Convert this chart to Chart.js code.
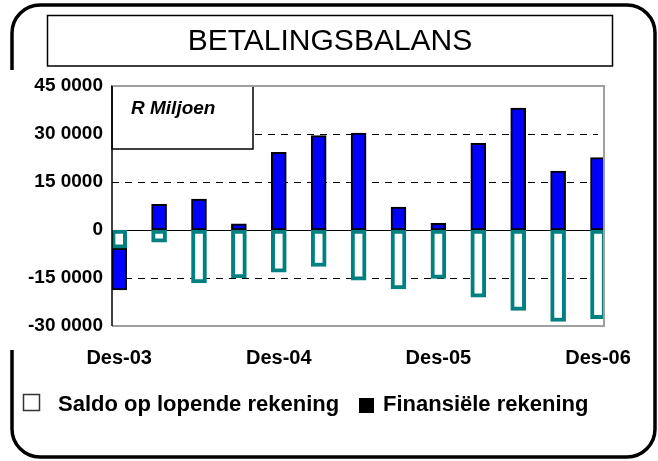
<!DOCTYPE html>
<html>
<head>
<meta charset="utf-8">
<script src="https://cdn.jsdelivr.net/npm/chart.js@4.4.0/dist/chart.umd.min.js"></script>
<style>
  html, body { margin: 0; padding: 0; background: #fff; }
</style>
</head>
<body>
<canvas id="bop" width="658" height="461"></canvas>
<script>
// quarters Des-03 .. Des-06, only every fourth one is labelled
const categories = ['Des-03', 'Mrt-04', 'Jun-04', 'Sep-04', 'Des-04', 'Mrt-05', 'Jun-05',
  'Sep-05', 'Des-05', 'Mrt-06', 'Jun-06', 'Sep-06', 'Des-06'];
const labelledQuarters = [0, 4, 8, 12];
const seriesNames = ['Saldo op lopende rekening', 'Finansiële rekening'];
const saldo = [-5700, -3800, -16500, -15000, -13200, -11400, -15700, -18400, -15100, -21000, -25100, -28600, -27700];
const finansiele = [-13000, 8000, 9700, 1900, 24300, 29500, 30300, 7200, 2100, 27100, 38100, 18400, 22600];
const yTicks = [-30000, -15000, 0, 15000, 30000, 45000];
const yTickLabels = ['-30 0000', '-15 0000', '0', '15 0000', '30 0000', '45 0000'];

const FONT = '"Liberation Sans", Arial, sans-serif';

const decor = {
  id: 'decor',
  beforeDraw(chart) {
    const { ctx } = chart;
    ctx.save();
    ctx.fillStyle = '#fff';
    ctx.fillRect(0, 0, chart.width, chart.height);

    // rounded outer frame, open on the left behind the y labels
    const l = 12, t = 5, r = 655, b = 457, rad = 28;
    ctx.beginPath();
    ctx.moveTo(l, 70);
    ctx.lineTo(l, t + rad);
    ctx.arcTo(l, t, l + rad, t, rad);
    ctx.lineTo(r - rad, t);
    ctx.arcTo(r, t, r, t + rad, rad);
    ctx.lineTo(r, b - rad);
    ctx.arcTo(r, b, r - rad, b, rad);
    ctx.lineTo(l + rad, b);
    ctx.arcTo(l, b, l, b - rad, rad);
    ctx.lineTo(l, 350);
    ctx.lineWidth = 3.5;
    ctx.strokeStyle = '#000';
    ctx.stroke();

    // title box
    ctx.lineWidth = 1.5;
    ctx.strokeRect(47.5, 15.5, 565, 50.5);
    ctx.fillStyle = '#000';
    ctx.font = '30px ' + FONT;
    ctx.textAlign = 'center';
    ctx.textBaseline = 'middle';
    ctx.fillText('BETALINGSBALANS', 330, 42);
    ctx.restore();
  },
  beforeDatasetsDraw(chart) {
    const { ctx, chartArea: a, scales: { x, y } } = chart;
    ctx.save();
    ctx.strokeStyle = '#000';
    ctx.lineWidth = 1;
    y.ticks.forEach(tk => {
      if (tk.value === y.min || tk.value === y.max) return;
      const py = Math.round(y.getPixelForValue(tk.value)) + 0.5;
      ctx.beginPath();
      if (tk.value === 0) {
        ctx.setLineDash([]);
        ctx.moveTo(a.left, py);
        ctx.lineTo(a.right, py);
      } else {
        ctx.setLineDash([7, 6]);
        ctx.moveTo(a.left, py);
        ctx.lineTo(a.right - 6, py);
      }
      ctx.stroke();
    });
    ctx.setLineDash([]);

    // small category ticks under the zero line
    const zy = y.getPixelForValue(0);
    labelledQuarters.slice(1).forEach(i => {
      const px = Math.round(x.getPixelForValue(i - 0.18)) + 0.5;
      ctx.beginPath();
      ctx.moveTo(px, zy);
      ctx.lineTo(px, zy + 7);
      ctx.stroke();
    });

    // unit box
    ctx.fillStyle = '#fff';
    ctx.fillRect(a.left, a.top, 141, 63);
    ctx.lineWidth = 1.5;
    ctx.strokeRect(a.left, a.top, 141, 63);
    ctx.fillStyle = '#000';
    ctx.font = 'italic bold 19px ' + FONT;
    ctx.textBaseline = 'middle';
    ctx.fillText('R Miljoen', a.left + 19, a.top + 23);
    ctx.restore();
  },
  afterDatasetsDraw(chart) {
    const { ctx, chartArea: a } = chart;
    ctx.save();
    ctx.strokeStyle = '#a0a0a0';
    ctx.lineWidth = 2;
    ctx.beginPath();
    ctx.moveTo(a.left, a.top);
    ctx.lineTo(a.right, a.top);
    ctx.lineTo(a.right, a.bottom);
    ctx.lineTo(a.left, a.bottom);
    ctx.stroke();
    ctx.strokeStyle = '#000';
    ctx.lineWidth = 1.5;
    ctx.beginPath();
    ctx.moveTo(a.left, a.top);
    ctx.lineTo(a.left, a.bottom);
    ctx.stroke();
    ctx.restore();
  },
  afterDraw(chart) {
    const { ctx } = chart;
    ctx.save();
    ctx.font = 'bold 22px ' + FONT;
    ctx.textBaseline = 'middle';
    const ly = 405;
    // hollow square
    ctx.fillStyle = '#fff';
    ctx.fillRect(23.5, 394.5, 16, 16);
    ctx.strokeStyle = '#333';
    ctx.lineWidth = 1.5;
    ctx.strokeRect(23.5, 394.5, 16, 16);
    ctx.fillStyle = '#000';
    ctx.fillText(seriesNames[0], 58, ly);
    const w = ctx.measureText(seriesNames[0]).width;
    const sx = Math.round(58 + w + 20);
    ctx.fillRect(sx, 398, 15, 15);
    ctx.fillText(seriesNames[1], sx + 24, ly);
    ctx.restore();
  }
};

new Chart(document.getElementById('bop'), {
  type: 'bar',
  data: {
    datasets: [
      {
        label: seriesNames[0],
        data: saldo.map((v, i) => ({ x: i, y: v })),
        backgroundColor: '#fff',
        borderColor: '#008080',
        borderWidth: 4,
        borderSkipped: false,
        barThickness: 15
      },
      {
        label: seriesNames[1],
        data: finansiele.map((v, i) => ({ x: i, y: v })),
        backgroundColor: '#0000ff',
        borderColor: '#000',
        borderWidth: 2,
        borderSkipped: false,
        barThickness: 15
      }
    ]
  },
  options: {
    responsive: false,
    animation: false,
    layout: { padding: { left: 12, right: 54, top: 86, bottom: 75 } },
    plugins: {
      legend: { display: false },
      title: { display: false },
      tooltip: { enabled: false }
    },
    scales: {
      x: {
        type: 'linear',
        offset: false,
        min: -0.18,
        max: 12.15,
        stacked: true,
        grid: { display: false, drawTicks: false },
        border: { display: false },
        afterBuildTicks: s => { s.ticks = labelledQuarters.map(i => ({ value: i })); },
        afterFit: s => { s.height = 60; },
        ticks: {
          autoSkip: false,
          maxRotation: 0,
          padding: 20,
          color: '#000',
          font: { family: FONT, size: 20, weight: 'bold' },
          callback: v => categories[v]
        }
      },
      y: {
        min: -30000,
        max: 45000,
        stacked: true,
        grid: { display: false, drawTicks: false },
        border: { display: false },
        afterBuildTicks: s => { s.ticks = yTicks.map(v => ({ value: v })); },
        afterFit: s => { s.width = 100; },
        ticks: {
          padding: 9,
          color: '#000',
          font: { family: FONT, size: 19, weight: 'bold' },
          callback: v => yTickLabels[yTicks.indexOf(v)]
        }
      }
    }
  },
  plugins: [decor]
});
</script>
</body>
</html>
